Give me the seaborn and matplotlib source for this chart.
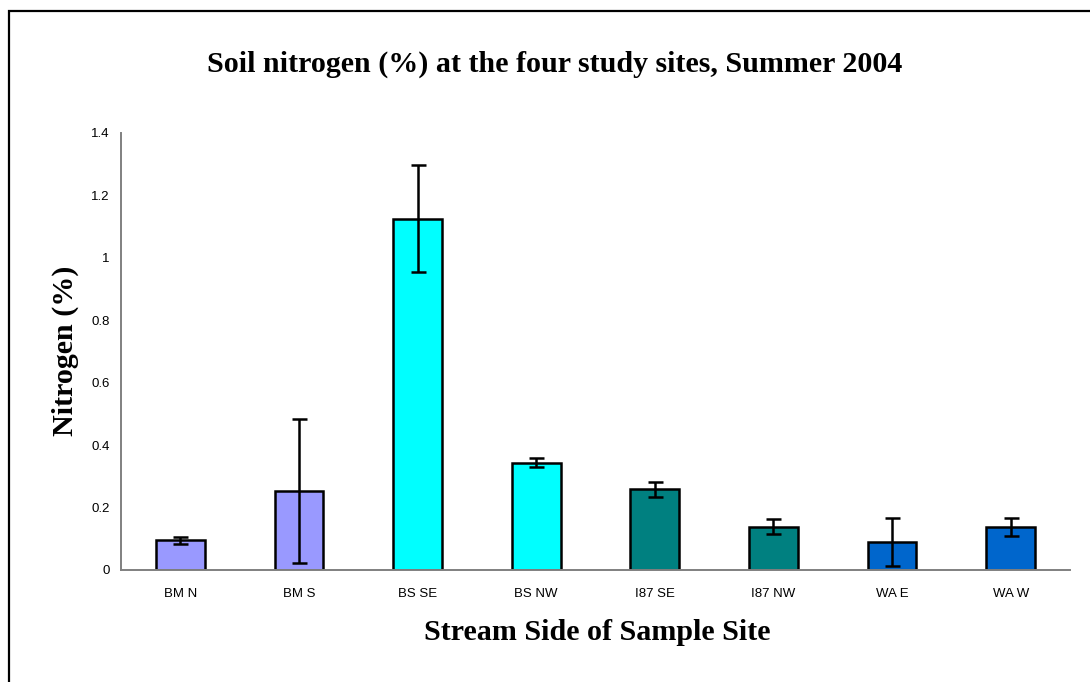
import matplotlib
matplotlib.use("Agg")
import matplotlib.pyplot as plt
from matplotlib.patches import Rectangle
import seaborn as sns
import pandas as pd
import numpy as np

# Soil nitrogen by stream side, with error bars
sites = ["BM N", "BM S", "BS SE", "BS NW", "I87 SE", "I87 NW", "WA E", "WA W"]
site_group = ["BM", "BM", "BS", "BS", "I87", "I87", "WA", "WA"]
nitrogen = [0.095, 0.252, 1.125, 0.344, 0.258, 0.139, 0.090, 0.138]
nitrogen_err = [0.012, 0.230, 0.170, 0.013, 0.023, 0.023, 0.076, 0.030]
group_colors = {"BM": "#9999FF", "BS": "#00FFFF", "I87": "#008080", "WA": "#0066CC"}
y_ticks = [0, 0.2, 0.4, 0.6, 0.8, 1.0, 1.2, 1.4]
y_tick_labels = ["0", "0.2", "0.4", "0.6", "0.8", "1", "1.2", "1.4"]

df = pd.DataFrame({"site": sites, "group": site_group, "nitrogen": nitrogen})

sns.set_style("white")
plt.rcParams["text.color"] = "black"
plt.rcParams["xtick.color"] = "black"
plt.rcParams["ytick.color"] = "black"
serif = ["Liberation Serif", "DejaVu Serif"]
sans = ["Liberation Sans", "DejaVu Sans"]

fig = plt.figure(figsize=(10.9, 6.82), dpi=100)
ax = fig.add_axes([121 / 1090, 1 - 570 / 682, (1070 - 121) / 1090, (570 - 132.7) / 682])

sns.barplot(data=df, x="site", y="nitrogen", hue="group", palette=group_colors,
            order=sites, dodge=False, width=0.41, errorbar=None, legend=False,
            saturation=1, edgecolor="black", linewidth=1.8, ax=ax)

ax.errorbar(np.arange(len(sites)), nitrogen, yerr=nitrogen_err, fmt="none",
            ecolor="black", elinewidth=1.8, capsize=5.4, capthick=1.8, zorder=5)

ax.set_xlim(-0.5, len(sites) - 0.5)
ax.set_ylim(0, 1.4)
ax.set_yticks(y_ticks)
ax.set_yticklabels(y_tick_labels, fontfamily=sans, fontsize=9.5)
ax.set_xticks(np.arange(len(sites)))
ax.set_xticklabels(sites, fontfamily=sans, fontsize=9.5)
ax.set_xticks(np.arange(len(sites) + 1) - 0.5, minor=True)
ax.tick_params(axis="x", which="major", length=0, pad=13, labelcolor="black")
ax.tick_params(axis="x", which="minor", length=4, width=1.2, color="#808080", direction="out")
ax.tick_params(axis="y", length=4, width=1.2, color="#808080", direction="out", pad=4,
               labelcolor="black")

for side in ["top", "right"]:
    ax.spines[side].set_visible(False)
for side in ["left", "bottom"]:
    ax.spines[side].set_color("#808080")
    ax.spines[side].set_linewidth(1.4)

ax.set_xlabel("")
ax.set_ylabel("")

fig.text(555 / 1090, 1 - 64 / 682, "Soil nitrogen (%) at the four study sites, Summer 2004",
         ha="center", va="center", fontfamily=serif, fontweight="bold", fontsize=21.6,
         color="black")
fig.text(597 / 1090, 1 - 632 / 682, "Stream Side of Sample Site",
         ha="center", va="center", fontfamily=serif, fontweight="bold", fontsize=21.6,
         color="black")
fig.text(65 / 1090, 1 - 351 / 682, "Nitrogen (%)", rotation=90,
         ha="center", va="center", fontfamily=serif, fontweight="bold", fontsize=21.6,
         color="black")

# Chart area border
fig.patches.append(Rectangle((8.5 / 1090, -0.1), 1.2, 1 - 11 / 682 + 0.1,
                             transform=fig.transFigure, fill=False,
                             edgecolor="black", linewidth=1.6, clip_on=False))

fig.savefig("out.png", dpi=100)
